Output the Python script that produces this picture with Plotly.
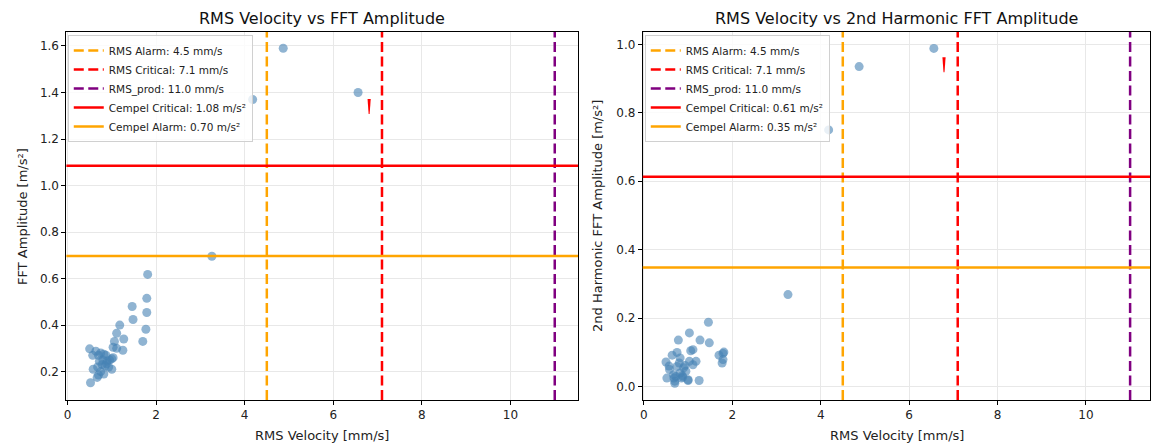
import plotly.graph_objects as go

# ---------------- data ----------------
rms_velocity = [
    0.50, 0.64, 0.57, 0.70, 0.75, 0.82, 0.87, 0.72, 0.80, 0.90,
    0.95, 1.00, 1.03, 0.78, 0.85, 0.68, 0.93, 0.58, 0.75, 0.82,
    0.70, 1.00, 0.52, 0.67, 0.88,
    1.03, 1.11, 1.25, 1.06, 1.27, 1.11, 1.18, 1.46, 1.48, 1.81,
    1.79, 1.79, 1.77, 1.70,
    3.26, 4.18, 4.87, 6.56,
]
fft_amplitude = [
    0.298, 0.288, 0.270, 0.270, 0.280, 0.275, 0.270, 0.245, 0.250, 0.245,
    0.250, 0.255, 0.260, 0.230, 0.225, 0.220, 0.220, 0.210, 0.200, 0.190,
    0.185, 0.210, 0.152, 0.175, 0.235,
    0.305, 0.300, 0.292, 0.330, 0.340, 0.365, 0.400, 0.480, 0.424, 0.618,
    0.515, 0.454, 0.382, 0.330,
    0.696, 1.370, 1.590, 1.400,
]
h2_amplitude = [
    0.072, 0.092, 0.060, 0.016, 0.100, 0.084, 0.032, 0.030, 0.069, 0.055,
    0.045, 0.018, 0.157, 0.136, 0.025, 0.025, 0.062, 0.050, 0.059, 0.040,
    0.010, 0.020, 0.025, 0.035, 0.028,
    0.074, 0.064, 0.018, 0.105, 0.136, 0.108, 0.074, 0.188, 0.128, 0.101,
    0.097, 0.079, 0.069, 0.092,
    0.269, 0.750, 0.935, 0.988,
]

rms_thresholds = [4.5, 7.1, 11.0]
rms_names = ["RMS Alarm: 4.5 mm/s", "RMS Critical: 7.1 mm/s", "RMS_prod: 11.0 mm/s"]
rms_colors = ["orange", "red", "purple"]

cempel_fft = [1.085, 0.697]
cempel_fft_names = ["Cempel Critical: 1.08 m/s²", "Cempel Alarm: 0.70 m/s²"]
cempel_h2 = [0.613, 0.348]
cempel_h2_names = ["Cempel Critical: 0.61 m/s²", "Cempel Alarm: 0.35 m/s²"]
cempel_colors = ["red", "orange"]

flag_x = [6.81, 6.79]
flag_y = [1.372, 0.962]

titles = ["RMS Velocity vs FFT Amplitude", "RMS Velocity vs 2nd Harmonic FFT Amplitude"]
y_titles = ["FFT Amplitude [m/s²]", "2nd Harmonic FFT Amplitude [m/s²]"]
x_title = "RMS Velocity [mm/s]"

# ---------------- figure ----------------
W, H = 1151, 445
FONT = "DejaVu Sans"
fig = go.Figure()

fig.add_trace(go.Scatter(
    x=rms_velocity, y=fft_amplitude, mode="markers", xaxis="x", yaxis="y",
    marker=dict(size=9, color="rgba(70,130,180,0.6)", line=dict(width=0)),
    showlegend=False, hoverinfo="skip"))
fig.add_trace(go.Scatter(
    x=rms_velocity, y=h2_amplitude, mode="markers", xaxis="x2", yaxis="y2",
    marker=dict(size=9, color="rgba(70,130,180,0.6)", line=dict(width=0)),
    showlegend=False, hoverinfo="skip"))

dash = "10px,4.5px"
panels = [("x", "y", "legend", cempel_fft, cempel_fft_names),
          ("x2", "y2", "legend2", cempel_h2, cempel_h2_names)]
rank = 1
for xr, yr, lg, cvals, cnames in panels:
    for v, n, c in zip(rms_thresholds, rms_names, rms_colors):
        fig.add_shape(type="line", xref=xr, yref=yr + " domain", x0=v, x1=v, y0=0, y1=1,
                      line=dict(color=c, width=2.5, dash=dash), name=n,
                      showlegend=True, legend=lg, legendrank=rank)
        rank += 1
    for v, n, c in zip(cvals, cnames, cempel_colors):
        fig.add_shape(type="line", xref=xr + " domain", yref=yr, x0=0, x1=1, y0=v, y1=v,
                      line=dict(color=c, width=2.5), name=n,
                      showlegend=True, legend=lg, legendrank=rank)
        rank += 1

# red flag markers
for i, (xr, yr) in enumerate([("x", "y"), ("x2", "y2")]):
    fig.add_shape(type="path", xref=xr, yref=yr, xsizemode="pixel", ysizemode="pixel",
                  xanchor=flag_x[i], yanchor=flag_y[i],
                  path="M-1.6,0 L1.6,0 L0.5,-15 L-0.5,-15 Z",
                  fillcolor="red", line=dict(width=0))

axis_common = dict(showline=True, mirror=True, linecolor="black", linewidth=1,
                   ticks="outside", ticklen=4, tickwidth=1, tickcolor="black",
                   showgrid=True, gridcolor="#e8e8e8", gridwidth=1, zeroline=False,
                   tickfont=dict(family=FONT, size=12, color="#222"))

x1d = [63.6 / W, 577 / W]
x2d = [642 / W, 1.0]
yd = [1 - 400 / H, 1 - 32 / H]

legend_common = dict(xanchor="left", yanchor="top",
                     bgcolor="rgba(255,255,255,0.8)", bordercolor="#d0d0d0", borderwidth=1,
                     font=dict(family=FONT, size=10.5, color="#222"), itemwidth=30,
                     tracegroupgap=0)

fig.update_layout(
    width=W, height=H,
    margin=dict(l=0, r=0, t=0, b=0),
    paper_bgcolor="white", plot_bgcolor="white",
    font=dict(family=FONT, color="#222"),
    xaxis=dict(domain=x1d, range=[-0.025, 11.525], tickvals=[0, 2, 4, 6, 8, 10],
               anchor="y", **axis_common),
    yaxis=dict(domain=yd, range=[0.078, 1.66], tickvals=[0.2, 0.4, 0.6, 0.8, 1.0, 1.2, 1.4, 1.6],
               tickformat=".1f", anchor="x", **axis_common),
    xaxis2=dict(domain=x2d, range=[-0.025, 11.45], tickvals=[0, 2, 4, 6, 8, 10],
                anchor="y2", **axis_common),
    yaxis2=dict(domain=yd, range=[-0.039, 1.036], tickvals=[0.0, 0.2, 0.4, 0.6, 0.8, 1.0],
                tickformat=".1f", anchor="x2", **axis_common),
    legend=dict(x=65 / W, y=1 - 35 / H, **legend_common),
    legend2=dict(x=644 / W, y=1 - 35 / H, **legend_common),
)

annots = []
centers = [(x1d[0] + x1d[1]) / 2, 897 / W]
for i in range(2):
    annots.append(dict(text=titles[i], x=centers[i], y=1 - 18 / H, xref="paper", yref="paper",
                       showarrow=False, xanchor="center", yanchor="middle",
                       font=dict(family=FONT, size=16, color="#111")))
    annots.append(dict(text=x_title, x=centers[i], y=1 - 435 / H, xref="paper", yref="paper",
                       showarrow=False, xanchor="center", yanchor="middle",
                       font=dict(family=FONT, size=13, color="#222")))
ylab_x = [20 / W, 597 / W]
for i in range(2):
    annots.append(dict(text=y_titles[i], x=ylab_x[i], y=(yd[0] + yd[1]) / 2, xref="paper",
                       yref="paper", showarrow=False, textangle=-90,
                       xanchor="center", yanchor="middle",
                       font=dict(family=FONT, size=13, color="#222")))
fig.update_layout(annotations=annots)

fig.write_html("out.html", config={"displayModeBar": False},
               post_script="document.body.style.margin='0';document.body.style.overflow='hidden';")
